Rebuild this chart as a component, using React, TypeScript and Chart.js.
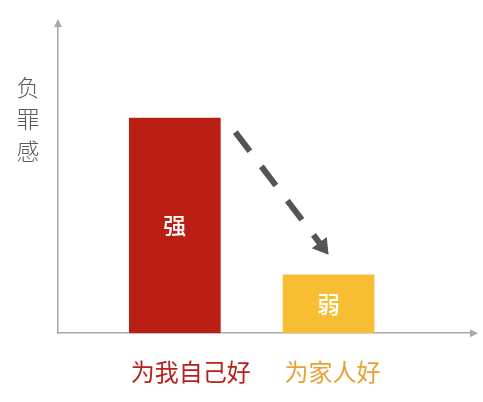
import React, { useEffect, useRef } from 'react';
import Chart from 'chart.js/auto';

// data (arbitrary units, y axis has no ticks)
const categories = ['为我自己好', '为家人好'];
const guiltValues = [70, 19];
const barLabels = ['强', '弱'];
const yTitle = ['负', '罪', '感'];

const barColors = ['#bb1f13', '#f7bd33'];
const labelColors = ['#b8211a', '#e9a135'];
const axisColor = '#aaaaaa';
const cjkFont = '"Noto Sans CJK SC", "Noto Sans", sans-serif';

const decorations = {
  id: 'decorations',
  afterDraw(chart: any) {
    const { ctx, chartArea } = chart;
    const bars = chart.getDatasetMeta(0).data;
    ctx.save();

    // arrow heads on the axes
    ctx.fillStyle = axisColor;
    ctx.beginPath();
    ctx.moveTo(chartArea.left, chartArea.top - 7);
    ctx.lineTo(chartArea.left - 4, chartArea.top + 1);
    ctx.lineTo(chartArea.left + 4, chartArea.top + 1);
    ctx.closePath();
    ctx.fill();
    ctx.beginPath();
    ctx.moveTo(chartArea.right + 8, chartArea.bottom);
    ctx.lineTo(chartArea.right, chartArea.bottom - 4);
    ctx.lineTo(chartArea.right, chartArea.bottom + 4);
    ctx.closePath();
    ctx.fill();

    // vertical y title
    ctx.fillStyle = '#5a5a5a';
    ctx.font = `300 23px ${cjkFont}`;
    ctx.textAlign = 'center';
    ctx.textBaseline = 'middle';
    yTitle.forEach((ch, i) => ctx.fillText(ch, 28, 87 + i * 32));

    // labels inside bars
    ctx.fillStyle = '#ffffff';
    ctx.font = `500 23px ${cjkFont}`;
    bars.forEach((bar: any, i: number) => {
      ctx.fillText(barLabels[i], bar.x, (bar.y + bar.base) / 2);
    });

    // dashed arrow from first bar down to second
    const a = bars[0];
    const b = bars[1];
    const x0 = a.x + a.width / 2 + 15;
    const y0 = a.y + 14;
    const x1 = b.x;
    const y1 = b.y - 20;
    const ang = Math.atan2(y1 - y0, x1 - x0);
    const headLen = 18;
    const lx = x1 - Math.cos(ang) * headLen * 0.8;
    const ly = y1 - Math.sin(ang) * headLen * 0.8;
    ctx.strokeStyle = '#555555';
    ctx.lineWidth = 6;
    ctx.setLineDash([24, 19]);
    ctx.beginPath();
    ctx.moveTo(x0, y0);
    ctx.lineTo(lx, ly);
    ctx.stroke();
    ctx.setLineDash([]);
    ctx.fillStyle = '#555555';
    ctx.beginPath();
    ctx.moveTo(x1, y1);
    ctx.lineTo(x1 - headLen * Math.cos(ang - 0.55), y1 - headLen * Math.sin(ang - 0.55));
    ctx.lineTo(x1 - headLen * Math.cos(ang + 0.55), y1 - headLen * Math.sin(ang + 0.55));
    ctx.closePath();
    ctx.fill();

    ctx.restore();
  },
};

const App = () => {
  const chartRef = useRef<HTMLCanvasElement>(null);
  const chartInstanceRef = useRef<Chart>();

  useEffect(() => {
    document.body.style.margin = '0';
    if (chartRef.current) {
      const ctx = chartRef.current.getContext('2d');
      if (ctx) {
        if (chartInstanceRef.current) {
          chartInstanceRef.current.destroy();
        }

        chartInstanceRef.current = new Chart(ctx, {
          type: 'bar',
          data: {
            datasets: [{
              label: '负罪感',
              data: guiltValues.map((v, i) => ({ x: i + 1, y: v })),
              backgroundColor: barColors,
              borderWidth: 0,
              barThickness: 91,
            }],
          },
          options: {
            responsive: false,
            animation: false,
            layout: {
              padding: { left: 58, right: 13, top: 26, bottom: -8 },
            },
            plugins: {
              legend: { display: false },
              tooltip: { enabled: false },
            },
            scales: {
              x: {
                type: 'linear',
                offset: false,
                min: 0.24,
                max: 2.92,
                afterBuildTicks: (scale: any) => {
                  scale.ticks = categories.map((_, i) => ({ value: i + 1 }));
                },
                grid: { display: false, drawTicks: false },
                border: { display: true, color: axisColor, width: 1.5 },
                ticks: {
                  autoSkip: false,
                  maxRotation: 0,
                  align: 'start',
                  labelOffset: -44,
                  padding: 24,
                  font: { family: cjkFont, size: 24, weight: 400 },
                  color: (c: any) => labelColors[c.index] ?? '#333',
                  callback: (_v: any, i: number) => categories[i],
                },
              },
              y: {
                min: 0,
                max: 100,
                grid: { display: false, drawTicks: false },
                border: { display: true, color: axisColor, width: 1.5 },
                ticks: { display: false },
              },
            },
          },
          plugins: [decorations],
        });
      }
    }

    return () => {
      if (chartInstanceRef.current) {
        chartInstanceRef.current.destroy();
      }
    };
  }, []);

  return (
    <div>
      <canvas ref={chartRef} width={483} height={402} />
    </div>
  );
};

export default App;
